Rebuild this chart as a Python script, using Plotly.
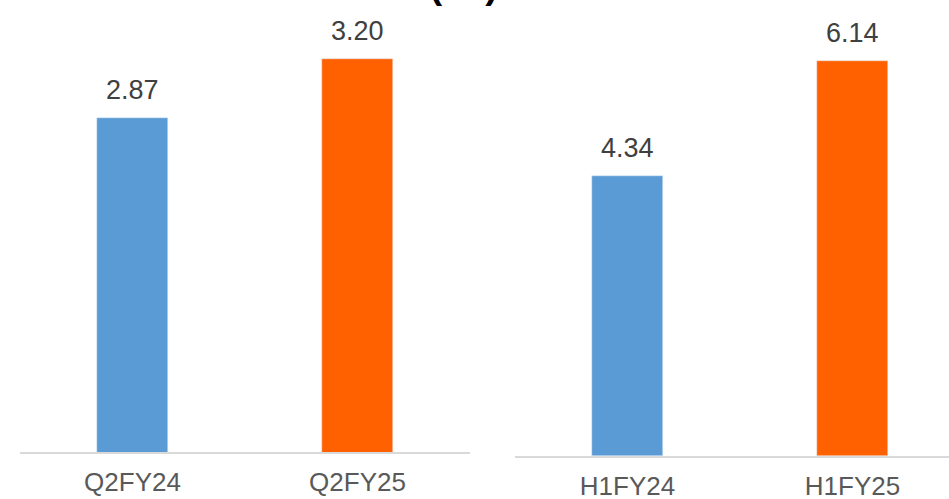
import plotly.graph_objects as go

# left panel: quarter
q_labels = ["Q2FY24", "Q2FY25"]
q_values = [2.87, 3.20]
# right panel: half year
h_labels = ["H1FY24", "H1FY25"]
h_values = [4.34, 6.14]

bar_colors = ["#5B9BD5", "#FF6000"]
title_text = "<b>EPS ( ₹ )</b>"

W, H = 949, 499

fig = go.Figure()

fig.add_trace(go.Bar(x=q_labels, y=q_values, marker_color=bar_colors, width=0.316,
                     xaxis="x", yaxis="y", hoverinfo="skip"))
fig.add_trace(go.Bar(x=h_labels, y=h_values, marker_color=bar_colors, width=0.316,
                     xaxis="x2", yaxis="y2", hoverinfo="skip"))

# value labels above bars
for labels, values, xa, ya in [(q_labels, q_values, "x", "y"), (h_labels, h_values, "x2", "y2")]:
    for lab, val in zip(labels, values):
        fig.add_annotation(x=lab, y=val, xref=xa, yref=ya, text=f"{val:.2f}",
                           showarrow=False, yanchor="bottom", yshift=11,
                           font=dict(size=27, color="#404040"))

# title, mostly cut off at the very top
fig.add_annotation(x=420 / W, y=1, xref="paper", yref="paper", text=title_text,
                   showarrow=False, yanchor="bottom", yshift=-8, xanchor="center",
                   font=dict(size=38, color="#000000", family="Liberation Sans, Arial, sans-serif"))

axis_common = dict(showgrid=False, zeroline=False, showline=True, linecolor="#D9D9D9",
                   linewidth=2, ticks="", tickfont=dict(size=26, color="#595959"),
                   ticklabelstandoff=6, automargin=False)

fig.update_layout(
    width=W, height=H,
    margin=dict(l=0, r=0, t=0, b=0),
    paper_bgcolor="white", plot_bgcolor="white",
    showlegend=False,
    font=dict(family="Liberation Sans, Arial, sans-serif"),
    bargap=0,
    xaxis=dict(domain=[20 / W, 470 / W], anchor="y", range=[-0.5, 1.5], **axis_common),
    yaxis=dict(domain=[47 / H, 1], anchor="x", range=[1.0, 3.53], visible=False, automargin=False),
    xaxis2=dict(domain=[515 / W, 1], anchor="y2", range=[-0.5, 1.5 - 16 / 225], **axis_common),
    yaxis2=dict(domain=[43 / H, 1], anchor="x2", range=[0, 7.08], visible=False, automargin=False),
)

fig.write_html("out.html", config={"displayModeBar": False},
               post_script="document.body.style.margin='0';document.body.style.overflow='hidden';")
